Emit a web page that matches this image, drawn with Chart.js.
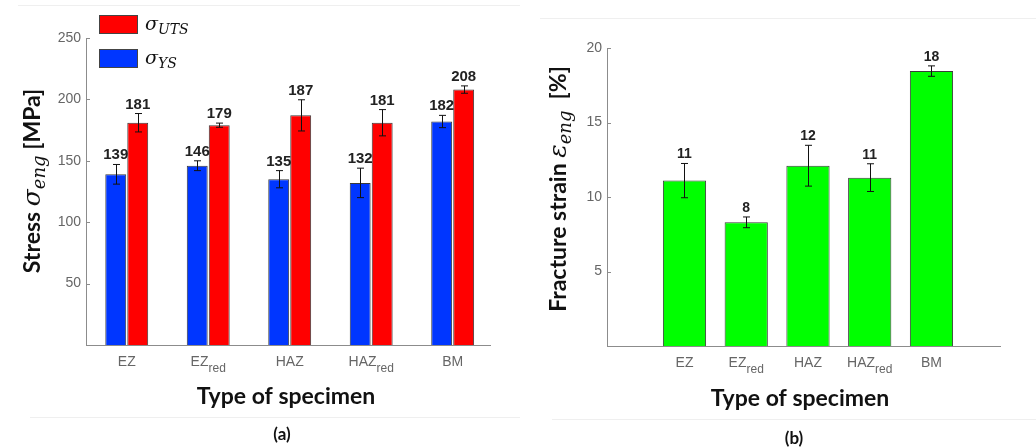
<!DOCTYPE html>
<html>
<head>
<meta charset="utf-8">
<script src="https://cdn.jsdelivr.net/npm/chart.js@4.4.0/dist/chart.umd.min.js"></script>
<style>
    html, body { margin: 0; padding: 0; background: #fff; }
    #wrap { position: relative; width: 1036px; height: 448px; overflow: hidden; }
    .panel { position: absolute; top: 0; height: 448px; }
    .frame { position: absolute; background: #efefef; }
</style>
</head>
<body>
<div id="wrap">
    <div class="frame" style="left:18px;top:5px;width:502px;height:1px"></div>
    <div class="frame" style="left:30px;top:417px;width:490px;height:1px"></div>
    <div class="frame" style="left:540px;top:18px;width:496px;height:1px"></div>
    <div class="frame" style="left:552px;top:419px;width:484px;height:1px"></div>
    <div class="panel" style="left:0;width:520px"><canvas id="stressChart" width="520" height="448"></canvas></div>
    <div class="panel" style="left:520px;width:516px"><canvas id="strainChart" width="516" height="448"></canvas></div>
</div>
<script>
// Categories ("_" marks the subscript part of the label)
const specimens = ['EZ', 'EZ_red', 'HAZ', 'HAZ_red', 'BM'];
const specimenPos = [1, 2, 3, 4, 5];

// (a) yield and ultimate tensile stress [MPa]
const ysValues = [139, 146, 135, 132, 182];
const ysErrors = [8, 4, 7, 12, 5];
const utsValues = [181, 179, 187, 181, 208];
const utsErrors = [7.5, 1.7, 12.7, 10.7, 3];
const stressTicks = [50, 100, 150, 200, 250];

// (b) fracture strain [%]
const strainValues = [11.1, 8.3, 12.1, 11.3, 18.45];
const strainErrors = [1.15, 0.36, 1.37, 0.93, 0.35];
const strainTicks = [5, 10, 15, 20];

const axisColor = '#8c8c8c';
const tickColor = '#666666';
const titleFont = 'bold 23px Lato';

function toPoints(values) {
    return values.map((v, i) => ({ x: specimenPos[i], y: v }));
}

// Draw a run of text pieces with different fonts (used for subscripts)
function drawRich(ctx, parts, x, y) {
    let total = 0;
    parts.forEach(p => {
        ctx.font = p.font;
        p.w = ctx.measureText(p.text).width;
        total += p.w;
    });
    let cx = x - total / 2;
    ctx.textAlign = 'left';
    ctx.textBaseline = 'alphabetic';
    parts.forEach(p => {
        ctx.font = p.font;
        ctx.fillText(p.text, cx, y + (p.dy || 0));
        cx += p.w;
    });
}

// Error bars + value labels on top of each bar
const errorBarPlugin = {
    id: 'errorBars',
    afterDatasetsDraw(chart) {
        const ctx = chart.ctx;
        const yScale = chart.scales.y;
        const labelFont = chart.options.plugins.errorBars.font;
        ctx.save();
        chart.data.datasets.forEach((ds, di) => {
            const meta = chart.getDatasetMeta(di);
            meta.data.forEach((bar, i) => {
                const v = ds.data[i].y;
                const e = ds.errors[i];
                const x = Math.round(bar.x) + 0.5;
                const top = yScale.getPixelForValue(v + e);
                const bottom = yScale.getPixelForValue(v - e);
                ctx.strokeStyle = '#111';
                ctx.lineWidth = 1;
                ctx.beginPath();
                ctx.moveTo(x, top);
                ctx.lineTo(x, bottom);
                ctx.moveTo(x - 3.5, top);
                ctx.lineTo(x + 3.5, top);
                ctx.moveTo(x - 3.5, bottom);
                ctx.lineTo(x + 3.5, bottom);
                ctx.stroke();

                ctx.fillStyle = '#222';
                ctx.font = labelFont;
                ctx.textAlign = 'center';
                ctx.textBaseline = 'alphabetic';
                ctx.fillText(String(Math.round(v)), bar.x, top - 5);
            });
        });
        ctx.restore();
    }
};

// Axis titles, subscript tick labels, inward ticks, legend and caption
const decorPlugin = {
    id: 'decor',
    afterDraw(chart) {
        const o = chart.options.plugins.decor;
        const ctx = chart.ctx;
        const xs = chart.scales.x;
        const ys = chart.scales.y;
        const area = chart.chartArea;
        ctx.save();

        // inward tick marks (matlab style)
        ctx.strokeStyle = axisColor;
        ctx.lineWidth = 1;
        ys.ticks.forEach(t => {
            const py = Math.round(ys.getPixelForValue(t.value)) + 0.5;
            ctx.beginPath();
            ctx.moveTo(area.left, py);
            ctx.lineTo(area.left + 4, py);
            ctx.stroke();
        });

        // category labels with subscripts
        ctx.fillStyle = tickColor;
        specimens.forEach((name, i) => {
            const [main, sub] = name.split('_');
            const parts = [{ text: main, font: '14px "Liberation Sans"' }];
            if (sub) {
                parts.push({ text: sub, font: '12px "Liberation Sans"', dy: 6 });
            }
            drawRich(ctx, parts, xs.getPixelForValue(specimenPos[i]), area.bottom + 21);
        });

        ctx.fillStyle = '#111';
        // x title
        drawRich(ctx, [{ text: 'Type of specimen', font: titleFont }], o.xTitleX, o.xTitleY);

        // y title (rotated)
        ctx.save();
        ctx.translate(o.yTitleX, o.yTitleY);
        ctx.rotate(-Math.PI / 2);
        drawRich(ctx, o.yTitle, 0, 0);
        ctx.restore();

        // caption
        drawRich(ctx, [{ text: o.caption, font: 'bold 17px Lato' }], o.captionX, o.captionY);

        // legend
        (o.legend || []).forEach(item => {
            const ds = chart.data.datasets[item.dataset];
            ctx.fillStyle = ds.backgroundColor;
            ctx.fillRect(item.x, item.y, 39, 19);
            ctx.strokeStyle = '#444';
            ctx.strokeRect(item.x + 0.5, item.y + 0.5, 38, 18);
            ctx.fillStyle = '#111';
            ctx.textAlign = 'left';
            ctx.font = 'italic 19px "DejaVu Serif"';
            ctx.fillText('σ', item.x + 46, item.y + 15);
            const w = ctx.measureText('σ').width;
            ctx.font = 'italic 14px "DejaVu Serif"';
            ctx.fillText(item.sub, item.x + 46 + w, item.y + 19);
        });

        ctx.restore();
    }
};

function baseScales(xMin, xMax, yMax, ticks, yWidth) {
    return {
        x: {
            type: 'linear',
            min: xMin,
            max: xMax,
            offset: false,
            border: { color: axisColor, width: 1 },
            grid: { display: false, drawTicks: false },
            ticks: { display: false },
            afterBuildTicks: scale => { scale.ticks = specimenPos.map(v => ({ value: v })); },
            afterFit: scale => { scale.height = 0; }
        },
        y: {
            min: 0,
            max: yMax,
            border: { color: axisColor, width: 1 },
            grid: { display: false, drawTicks: false },
            ticks: { padding: 5, color: tickColor, font: { family: 'Liberation Sans', size: 14 } },
            afterBuildTicks: scale => { scale.ticks = ticks.map(v => ({ value: v })); },
            afterFit: scale => { scale.width = yWidth; }
        }
    };
}

const stressChart = new Chart(document.getElementById('stressChart'), {
    type: 'bar',
    data: {
        datasets: [{
            label: 'σYS',
            data: toPoints(ysValues),
            errors: ysErrors,
            backgroundColor: '#0036ff',
            borderColor: '#3a3a3a',
            borderWidth: 1,
            categoryPercentage: 0.54,
            barPercentage: 0.95
        }, {
            label: 'σUTS',
            data: toPoints(utsValues),
            errors: utsErrors,
            backgroundColor: '#ff0000',
            borderColor: '#3a3a3a',
            borderWidth: 1,
            categoryPercentage: 0.54,
            barPercentage: 0.95
        }]
    },
    options: {
        responsive: false,
        animation: false,
        devicePixelRatio: 1,
        layout: { padding: { left: 0, top: 38, right: 30, bottom: 103 } },
        scales: baseScales(0.5, 5.458, 250, stressTicks, 86),
        plugins: {
            legend: { display: false },
            tooltip: { enabled: false },
            errorBars: { font: 'bold 15px "Liberation Sans"' },
            decor: {
                xTitleX: 286, xTitleY: 404,
                yTitleX: 40, yTitleY: 181,
                yTitle: [
                    { text: 'Stress ', font: titleFont },
                    { text: 'σ', font: 'italic 25px "DejaVu Serif"' },
                    { text: 'eng', font: 'italic 18px "DejaVu Serif"', dy: 5 },
                    { text: ' [MPa]', font: titleFont }
                ],
                caption: '(a)', captionX: 282, captionY: 440,
                legend: [
                    { dataset: 1, sub: 'UTS', x: 99, y: 15 },
                    { dataset: 0, sub: 'YS', x: 99, y: 49 }
                ]
            }
        }
    },
    plugins: [errorBarPlugin, decorPlugin]
});

const strainChart = new Chart(document.getElementById('strainChart'), {
    type: 'bar',
    data: {
        datasets: [{
            label: 'Fracture strain',
            data: toPoints(strainValues),
            errors: strainErrors,
            backgroundColor: '#00ff00',
            borderColor: '#3a3a3a',
            borderWidth: 1,
            categoryPercentage: 1,
            barPercentage: 0.7
        }]
    },
    options: {
        responsive: false,
        animation: false,
        devicePixelRatio: 1,
        layout: { padding: { left: 0, top: 48, right: 36, bottom: 102 } },
        scales: baseScales(-0.255, 6.11, 20, strainTicks, 87),
        plugins: {
            legend: { display: false },
            tooltip: { enabled: false },
            errorBars: { font: 'bold 14px "Liberation Sans"' },
            decor: {
                xTitleX: 280, xTitleY: 406,
                yTitleX: 46, yTitleY: 189,
                yTitle: [
                    { text: 'Fracture strain ', font: titleFont },
                    { text: 'ε', font: 'italic 25px "DejaVu Serif"' },
                    { text: 'eng', font: 'italic 18px "DejaVu Serif"', dy: 5 },
                    { text: '  [%]', font: titleFont }
                ],
                caption: '(b)', captionX: 274, captionY: 444
            }
        }
    },
    plugins: [errorBarPlugin, decorPlugin]
});
</script>
</body>
</html>
